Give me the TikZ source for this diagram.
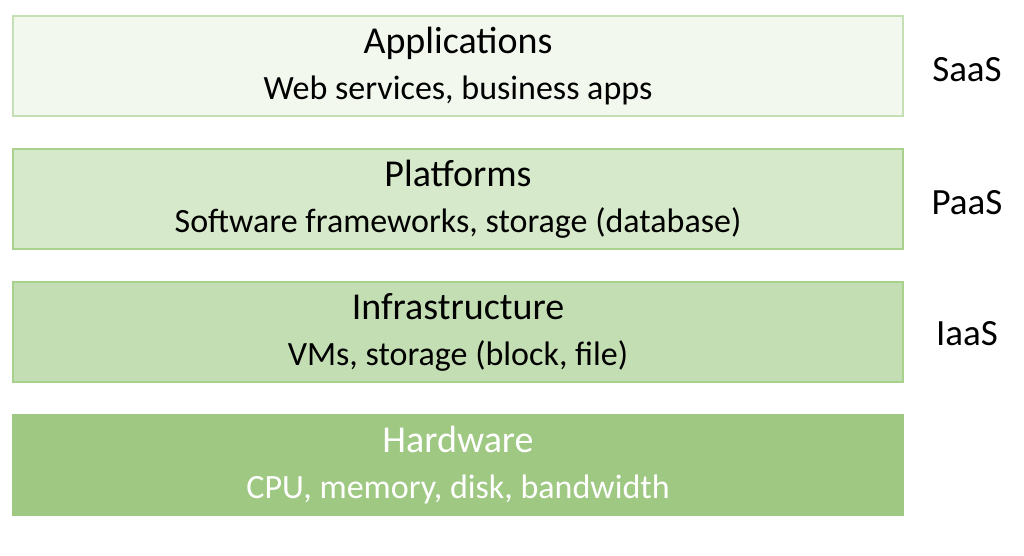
\documentclass[tikz,border=0pt]{standalone}
\usepackage{fontspec}
\setmainfont{Carlito}
\usetikzlibrary{positioning}
\definecolor{lvA}{HTML}{F2F8EE}
\definecolor{lvB}{HTML}{D6E9CA}
\definecolor{lvC}{HTML}{C4DEB3}
\definecolor{lvD}{HTML}{9FC883}
\definecolor{edA}{HTML}{C5E0B4}
\definecolor{edB}{HTML}{A9D18E}
\tikzset{
  layer/.style={draw, line width=2pt, minimum width=890pt, minimum height=100pt,
    align=center, inner sep=0pt, font=\fontsize{38}{46}\selectfont},
  svc/.style={font=\fontsize{37}{44}\selectfont}
}
\newcommand{\subline}[1]{{\fontsize{34}{40}\selectfont #1}}
\begin{document}
\begin{tikzpicture}[x=1pt,y=1pt,node distance=31pt]
  \useasboundingbox (0,0) rectangle (1024,-556);
  \node[layer, draw=edA, fill=lvA] (app) at (458,-66) {Applications\\[0pt]\subline{Web services, business apps}};
  \node[layer, draw=edB, fill=lvB, below=of app] (plat) {Platforms\\[0pt]\subline{Software frameworks, storage (database)}};
  \node[layer, draw=edB, fill=lvC, below=of plat] (infra) {Infrastructure\\[0pt]\subline{VMs, storage (block, file)}};
  \node[layer, draw=lvD, fill=lvD, text=white, below=of infra] (hw) {Hardware\\[0pt]\subline{CPU, memory, disk, bandwidth}};

  \node[svc] (saas) at (967,-70) {SaaS};
  \node[svc] (paas) at (967,-203) {PaaS};
  \node[svc] (iaas) at (967,-334) {IaaS};
\end{tikzpicture}
\end{document}
